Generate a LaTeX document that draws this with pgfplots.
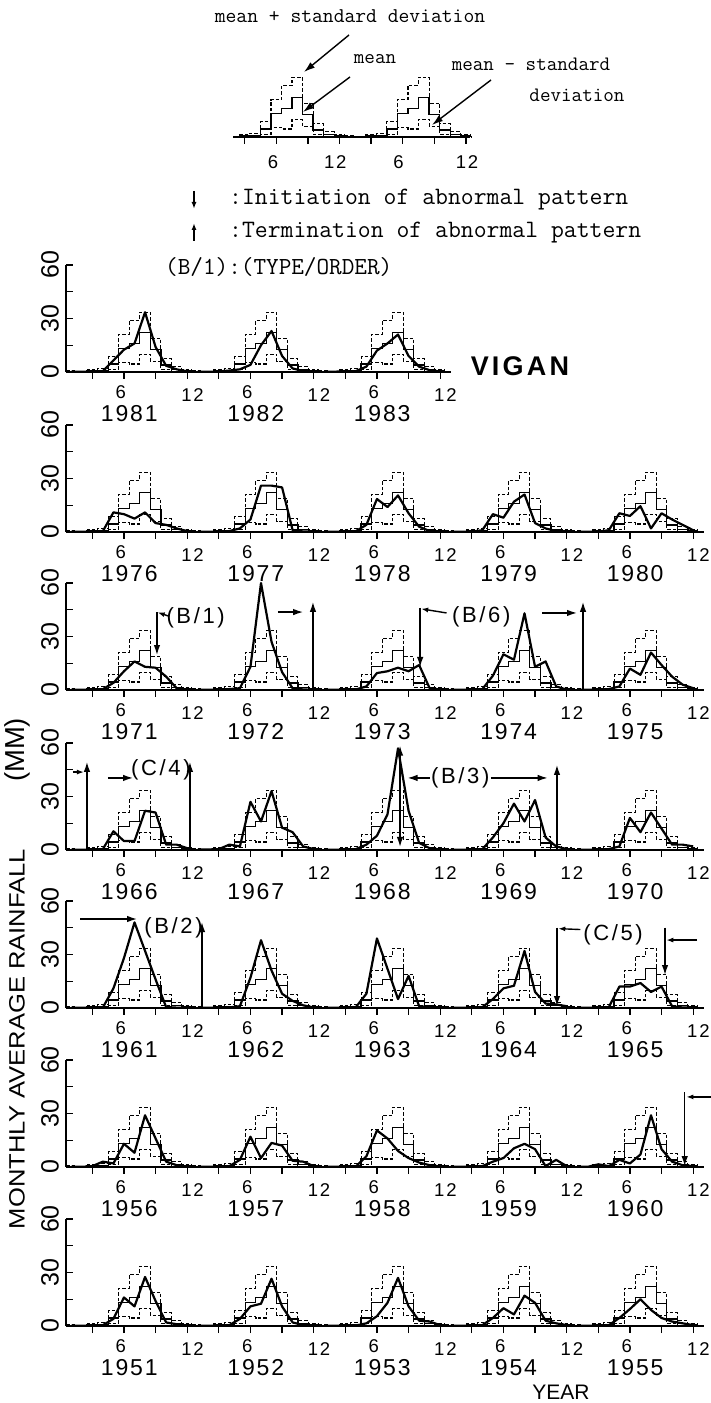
\documentclass[border=0pt]{standalone}
\usepackage{pgfplots}
\pgfplotsset{compat=1.18}
\usepackage{pgfplotstable}
\usepackage{graphicx}
\usepackage{fontspec}
\usetikzlibrary{arrows.meta}
\setmainfont{Liberation Sans}
\newfontfamily\tickfont{Liberation Sans}[LetterSpace=10]
\newfontfamily\yearfont{Liberation Sans}[LetterSpace=8]
\newfontfamily\annfont{Liberation Sans}[LetterSpace=12]
\newfontfamily\vigfont{Liberation Sans}[LetterSpace=12]

% climatology: left bar edge, mean, mean+sd, mean-sd
\pgfplotstableread{
e    mean psd  msd
0.5  0.3  0.8  0
1.5  0.2  0.5  0
2.5  0.5  1.2  0
3.5  1.0  2.0  0.2
4.5  4.5  8.5  1.5
5.5  13   21   5.5
6.5  16   29   4.5
7.5  22   33.5 10
8.5  12.5 19   6
9.5  4    7.5  1.5
10.5 1.5  3    0.5
11.5 0.5  1.2  0
12.5 0.5  1.2  0
}\clim

% 1981-1983
\pgfplotstableread{
m  y0   y1   y2
1  0.2  0.1  0.1
2  0.1  0.1  0.2
3  0.3  0.3  0.3
4  0.5  0.8  0.5
5  6.5  1.5  3
6  12.5 4    12
7  16   15   16
8  33.5 23   21
9  14   9    9
10 3.5  2    3
11 1.5  0.5  1
12 0.3  0.3  0.3
}\rowA
% 1976-1980
\pgfplotstableread{
m  y0  y1  y2   y3  y4
1  0.2 0.2 0.2  0.2 0.2
2  0.1 0.1 0.1  0.1 0.1
3  0.2 0.2 0.2  0.2 0.2
4  0.5 0.5 0.5  1   1
5  11  2   4    10  10.5
6  10  7   18.5 8   9
7  7.5 26  14   17  14.5
8  11  26  20.5 21  2
9  5   25  10.5 5   10.5
10 4   1   3    2   7
11 2   0.3 0.5  0.5 4
12 0.5 0.2 0.2  0.2 1
}\rowB
% 1971-1975
\pgfplotstableread{
m  y0   y1  y2   y3  y4
1  0.2  0.2 0.2  0.2 0.2
2  0.1  0.1 0.1  0.1 0.1
3  0.2  0.2 0.2  0.2 0.2
4  0.5  0.5 0.3  0.5 0.5
5  4    1   2    8   2
6  10.5 13  9.5  20  12
7  16   60  10.5 17  8.5
8  13   27  12.5 43  21
9  12.5 10  10.5 13  14
10 7.5  1   14   16  7.5
11 1    0.3 1    2   3
12 0.2  0.1 0.3  0.2 1
}\rowC
% 1966-1970
\pgfplotstableread{
m  y0   y1   y2  y3  y4
1  0.2  0.2  0.2 0.2 0.2
2  0.1  0.3  0.1 0.1 0.1
3  0.2  0.5  0.2 0.2 0.2
4  0.5  3    0.5 0.5 0.5
5  10.5 2    3   7   2
6  5    27   8   15  18
7  5    16   20  26  10
8  22   33   57  16  21
9  21   12.5 22  28  12
10 3    10   4   7   3
11 3    2    1   2   3
12 1    0.5  0.3 0.5 2
}\rowD
% 1961-1965
\pgfplotstableread{
m  y0  y1  y2  y3   y4
1  0.2 0.2 0.2 0.2  0.2
2  0.1 0.1 0.1 0.1  0.1
3  0.2 0.2 0.2 0.2  0.2
4  0.3 0.3 0.5 0.5  0.5
5  11  1   8   5    12
6  28  17  39  11   12
7  48  38  22  12.5 14
8  32  21  5   32   9
9  16  8   18  9    12
10 0.5 4   1   2.5  1
11 0.2 1.5 0.5 2    0.3
12 0.1 0.3 0.2 1    0.2
}\rowE
% 1956-1960
\pgfplotstableread{
m  y0  y1   y2   y3   y4
1  0.2 0.2  0.2  0.2  0.2
2  0.1 0.1  0.1  0.1  0.1
3  0.5 0.2  0.2  0.2  1.5
4  3   0.5  0.3  0.5  0.5
5  2   4    6    3    4
6  13  17   20.5 5    2
7  8   5    16   10.5 7
8  29  13.5 9    13   29
9  16  12   5    10   10
10 3   3.5  2.5  0.5  3
11 1   3    1    4    1
12 0.3 0.5  0.3  0.5  0.5
}\rowF
% 1951-1955
\pgfplotstableread{
m  y0   y1   y2  y3  y4
1  0.2  0.2  0.2 0.2 0.2
2  0.1  0.1  0.1 0.1 0.1
3  0.2  0.2  0.2 0.2 0.2
4  0.5  0.5  0.3 0.5 0.5
5  4    4    1.5 4.5 4.5
6  16   11   5.5 10  9.5
7  11   12.5 13  6.5 15
8  27.5 26.5 27  17  9
9  14   11   11  13  4.5
10 2    2    3   3   2.5
11 1    0.5  2.5 1.5 1.5
12 0.3  0.2  0.5 0.5 0.5
}\rowG

\pgfplotsset{
  panel/.style={scale only axis, height=107pt, xmin=0.5, ymin=0, ymax=60,
    axis x line*=bottom, axis y line*=left,
    axis line style={line width=1.5pt},
    xtick={3,6,...,60}, xticklabels={}, ytick={0,15,30,45,60}, yticklabels={},
    xtick align=outside, ytick align=inside, major tick length=7pt,
    tick style={line width=1.3pt,black},
    clip=false, anchor=south west},
  climdash/.style={const plot mark left, no marks, black, line width=1.1pt, dash pattern=on 3.5pt off 2pt},
  climmean/.style={const plot mark left, no marks, black, line width=1.3pt},
  obs/.style={no marks, black, line width=2.2pt, line join=round},
}
\tikzset{
  ann/.style={line width=1.4pt},
  arr/.style={-{Latex[length=10pt,width=6.5pt]}},
  sarr/.style={-{Latex[length=7pt,width=5pt]}},
  lab6/.style={font=\tickfont\fontsize{18.5pt}{18.5pt}\selectfont, inner sep=0pt},
  labyear/.style={font=\yearfont\fontsize{23pt}{23pt}\selectfont, inner sep=0pt},
  ytl/.style={rotate=90, font=\fontsize{25pt}{25pt}\selectfont, inner sep=0pt},
  annlab/.style={font=\annfont\fontsize{22pt}{22pt}\selectfont, inner sep=0pt},
  mono/.style={font=\ttfamily\fontsize{#1}{#1}\selectfont, inner sep=0pt},
}

\newcommand\climyear[1]{%
  \addplot[climdash] table[x expr=\thisrow{e}+12*#1, y=psd]{\clim};
  \addplot[climdash] table[x expr=\thisrow{e}+12*#1, y=msd]{\clim};
  \addplot[climmean] table[x expr=\thisrow{e}+12*#1, y=mean]{\clim};}
\newcommand\obsyear[2]{\addplot[obs] table[x expr=\thisrow{m}+12*#1, y=y#1]{#2};}
\newcommand\yearlab[2]{%
  \node[lab6] at ([yshift=-20pt]axis cs:{12*#1+5.7},0) {6};
  \node[lab6] at ([yshift=-23pt]axis cs:{12*#1+12.5},0) {12};
  \node[labyear] at ([yshift=-42pt]axis cs:{12*#1+6.5},0) {#2};}
\newcommand\fullyear[3]{\climyear{#1}\obsyear{#1}{#2}\yearlab{#1}{#3}}
\newcommand\ylabs{%
  \node[ytl] at ([xshift=-16pt]axis cs:0.5,0) {0};
  \node[ytl] at ([xshift=-16pt]axis cs:0.5,30) {30};
  \node[ytl] at ([xshift=-16pt]axis cs:0.5,60) {60};}

\begin{document}
\begin{tikzpicture}[x=1pt,y=1pt]
\useasboundingbox (0,0) rectangle (710,1403);

% ---------- key chart ----------
\begin{axis}[scale only axis, width=237.2pt, height=107pt, xmin=1.9, xmax=24.4, ymin=0, ymax=60,
  axis x line*=bottom, axis y line=none, axis line style={line width=1.5pt},
  xtick={3,6,...,24}, xticklabels={}, xtick align=outside, major tick length=7pt,
  tick style={line width=1.3pt,black}, clip=false, at={(233pt,1266pt)}, anchor=south west,
  restrict x to domain=1.8:25]
\climyear{0}\climyear{1}
\node[lab6] at ([yshift=-25pt]axis cs:5.7,0) {6};
\node[lab6] at ([yshift=-25pt]axis cs:11.6,0) {12};
\node[lab6] at ([yshift=-25pt]axis cs:17.6,0) {6};
\node[lab6] at ([yshift=-25pt]axis cs:24.1,0) {12};
\end{axis}
\node[mono=21pt] at (350,1387) {mean + standard deviation};
\node[mono=20.5pt] at (375,1344) {mean};
\node[mono=20.5pt] at (531,1339) {mean - standard};
\node[mono=20.5pt] at (577,1308) {deviation};
\draw[ann,-{Latex[length=11pt,width=7pt]}] (349,1368) -- (304,1331);
\draw[ann,-{Latex[length=11pt,width=7pt]}] (350,1326) -- (303,1291);
\draw[ann,-{Latex[length=11pt,width=7pt]}] (491,1323) -- (432,1278);
\draw[ann,sarr] (194,1212) -- (194,1194);
\node[mono=25pt, anchor=west] at (229,1203) {:Initiation of abnormal pattern};
\draw[ann,sarr] (194,1162) -- (194,1180);
\node[mono=25pt, anchor=west] at (229,1170) {:Termination of abnormal pattern};
\node[mono=24.5pt, anchor=west] at (165,1136) {(B/1):(TYPE/ORDER)};

% ---------- 1981-1983 ----------
\begin{axis}[panel, xmax=37, width=384.7pt, at={(66pt,1031pt)}]
\fullyear{0}{\rowA}{1981}\fullyear{1}{\rowA}{1982}\fullyear{2}{\rowA}{1983}
\ylabs
\end{axis}
\node[font=\vigfont\bfseries\fontsize{27pt}{27pt}\selectfont, inner sep=0pt] at (520,1037) {VIGAN};

% ---------- 1976-1980 ----------
\begin{axis}[panel, xmax=61, width=637.7pt, at={(66pt,871pt)}]
\fullyear{0}{\rowB}{1976}\fullyear{1}{\rowB}{1977}\fullyear{2}{\rowB}{1978}
\fullyear{3}{\rowB}{1979}\fullyear{4}{\rowB}{1980}
\ylabs
\end{axis}

% ---------- 1971-1975 ----------
\begin{axis}[panel, xmax=61, width=637.7pt, at={(66pt,713pt)}]
\fullyear{0}{\rowC}{1971}\fullyear{1}{\rowC}{1972}\fullyear{2}{\rowC}{1973}
\fullyear{3}{\rowC}{1974}\fullyear{4}{\rowC}{1975}
\ylabs
\draw[ann,arr] (axis cs:9.13,43.7) -- (axis cs:9.13,19.6);
\draw[ann,sarr] (axis cs:10.2,41.5) -- (axis cs:9.2,43.5);
\node[annlab] at (axis cs:12.8,40.4) {(B/1)};
\draw[ann,arr] (axis cs:20.6,43.7) -- (axis cs:23.0,43.7);
\draw[ann,arr] (axis cs:23.93,0) -- (axis cs:23.93,49.4);
\draw[ann,arr] (axis cs:34.1,46) -- (axis cs:34.1,12.9);
\draw[ann,sarr] (axis cs:36.6,43.2) -- (axis cs:34.2,45.5);
\node[annlab] at (axis cs:39.9,41) {(B/6)};
\draw[ann,arr] (axis cs:45.66,43.2) -- (axis cs:48.98,43.2);
\draw[ann,arr] (axis cs:49.55,0) -- (axis cs:49.55,49.4);
\end{axis}

% ---------- 1966-1970 ----------
\begin{axis}[panel, xmax=61, width=637.7pt, at={(66pt,553pt)}]
\fullyear{0}{\rowD}{1966}\fullyear{1}{\rowD}{1967}\fullyear{2}{\rowD}{1968}
\fullyear{3}{\rowD}{1969}\fullyear{4}{\rowD}{1970}
\ylabs
\draw[ann,sarr] (axis cs:1.16,43.7) -- (axis cs:2.2,43.7);
\draw[ann,arr] (axis cs:2.49,0) -- (axis cs:2.49,49.4);
\draw[ann,arr] (axis cs:4.48,40.4) -- (axis cs:6.86,40.4);
\node[annlab] at (axis cs:9.5,44.9) {(C/4)};
\draw[ann,arr] (axis cs:12.26,0) -- (axis cs:12.26,49.4);
\draw[ann,{Latex[length=10pt,width=6.5pt]}-{Latex[length=10pt,width=6.5pt]}] (axis cs:32.19,58.5) -- (axis cs:32.19,1.7);
\node[annlab] at (axis cs:37.9,40.4) {(B/3)};
\draw[ann,arr] (axis cs:35.0,40.4) -- (axis cs:32.9,40.4);
\draw[ann,arr] (axis cs:40.8,40.4) -- (axis cs:46.2,40.4);
\draw[ann,arr] (axis cs:47.08,0) -- (axis cs:47.08,47.7);
\end{axis}

% ---------- 1961-1965 ----------
\begin{axis}[panel, xmax=61, width=637.7pt, at={(66pt,395pt)}]
\fullyear{0}{\rowE}{1961}\fullyear{1}{\rowE}{1962}\fullyear{2}{\rowE}{1963}
\fullyear{3}{\rowE}{1964}\fullyear{4}{\rowE}{1965}
\ylabs
\draw[ann,arr] (axis cs:1.83,49.9) -- (axis cs:7.24,49.9);
\node[annlab] at (axis cs:10.7,45) {(B/2)};
\draw[ann,arr] (axis cs:13.4,0) -- (axis cs:13.4,48.2);
\draw[ann,arr] (axis cs:47.08,45) -- (axis cs:47.08,1.1);
\draw[ann,sarr] (axis cs:49.3,44) -- (axis cs:47.2,44.5);
\node[annlab] at (axis cs:52.4,41) {(C/5)};
\draw[ann,arr] (axis cs:57.33,45) -- (axis cs:57.33,18.5);
\draw[ann,sarr] (axis cs:60.37,38.1) -- (axis cs:57.45,38.1);
\end{axis}

% ---------- 1956-1960 ----------
\begin{axis}[panel, xmax=61, width=637.7pt, at={(66pt,236pt)}]
\fullyear{0}{\rowF}{1956}\fullyear{1}{\rowF}{1957}\fullyear{2}{\rowF}{1958}
\fullyear{3}{\rowF}{1959}\fullyear{4}{\rowF}{1960}
\ylabs
\draw[ann,arr] (axis cs:59.2,42) -- (axis cs:59.2,0.5);
\draw[ann,sarr] (axis cs:61.8,39.3) -- (axis cs:59.35,39.3);
\end{axis}

% ---------- 1951-1955 ----------
\begin{axis}[panel, xmax=61, width=637.7pt, at={(66pt,77pt)}]
\fullyear{0}{\rowG}{1951}\fullyear{1}{\rowG}{1952}\fullyear{2}{\rowG}{1953}
\fullyear{3}{\rowG}{1954}\fullyear{4}{\rowG}{1955}
\ylabs
\end{axis}

\node[rotate=90, inner sep=0pt] at (17,364) {\resizebox{380pt}{15.5pt}{\fontsize{21pt}{21pt}\selectfont MONTHLY AVERAGE RAINFALL}};
\node[rotate=90, inner sep=0pt] at (17,653) {\resizebox{64pt}{!}{\fontsize{21pt}{21pt}\selectfont (MM)}};
\node[font=\fontsize{21pt}{21pt}\selectfont, inner sep=0pt] at (561,11) {YEAR};
\end{tikzpicture}
\end{document}
